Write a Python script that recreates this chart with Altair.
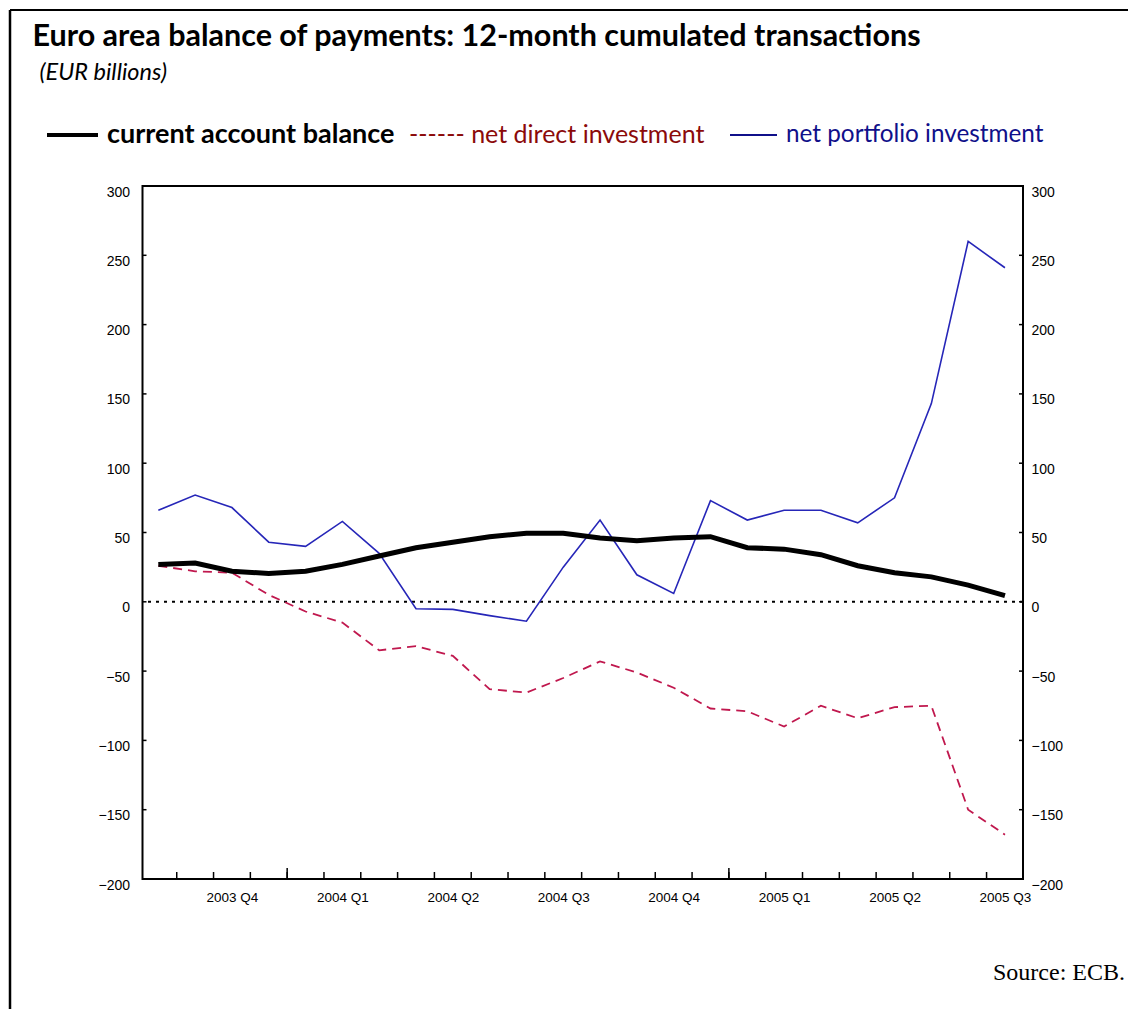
import altair as alt
import pandas as pd

# ---- data (EUR billions, 12-month cumulated), monthly Oct 2003 .. Sep 2005 ----
months = list(range(24))
current_account = [27, 28, 22, 20.5, 22, 27, 33, 39, 43, 47, 49.5, 49.5,
                   46, 44, 46, 47, 39, 38, 34, 26, 21, 18, 12, 4.5]
net_direct = [26, 22, 21, 5, -7, -15, -35, -32, -39, -63, -65.5, -55,
              -43, -51, -62, -77, -79, -90, -75, -84, -76, -75, -150, -168]
net_portfolio = [66, 77, 68, 43, 40, 58, 35, -5, -5.5, -10, -14, 25,
                 59, 19.5, 6, 73, 59, 66, 66, 57, 75, 143, 260, 241]

quarter_pos = [2, 5, 8, 11, 14, 17, 20, 23]
quarter_labels = ["2003 Q4", "2004 Q1", "2004 Q2", "2004 Q3",
                  "2004 Q4", "2005 Q1", "2005 Q2", "2005 Q3"]
month_ticks = [k + 0.5 for k in range(23)]
long_ticks = [3.5, 15.5]
y_ticks = [-150, -100, -50, 0, 50, 100, 150, 200, 250]
y_labels = [-200, -150, -100, -50, 0, 50, 100, 150, 200, 250, 300]

W, H = 880.5, 693

df = pd.DataFrame({"k": months, "ca": current_account,
                   "fdi": net_direct, "pf": net_portfolio})

xs = alt.Scale(domain=[-0.43, 23.49], nice=False, zero=False)
ys = alt.Scale(domain=[-200, 300], nice=False, zero=False)

lab_font = "Liberation Sans"
label_expr = "[" + ",".join("'%s'" % s for s in quarter_labels) + "][round((datum.value-2)/3)]"

base = alt.Chart(df)

# axis carriers
left_axis = alt.Chart(pd.DataFrame({"v": y_labels})).mark_point(opacity=0).encode(
    y=alt.Y("v:Q", scale=ys, axis=alt.Axis(orient="left", values=y_labels, ticks=False,
            domain=False, grid=False, title=None, labelPadding=13, labelOffset=6,
            labelFont=lab_font, labelFontSize=14, labelColor="black")),
)
right_axis = alt.Chart(pd.DataFrame({"v": y_labels})).mark_point(opacity=0).encode(
    y=alt.Y("v:Q", scale=ys, axis=alt.Axis(orient="right", values=y_labels, ticks=False,
            domain=False, grid=False, title=None, labelPadding=8, labelOffset=6,
            labelFont=lab_font, labelFontSize=14, labelColor="black")),
)
bottom_axis = alt.Chart(pd.DataFrame({"q": quarter_pos})).mark_point(opacity=0).encode(
    x=alt.X("q:Q", scale=xs, axis=alt.Axis(orient="bottom", values=quarter_pos,
            labelExpr=label_expr, ticks=False, domain=False, grid=False, title=None,
            labelPadding=11, labelFont=lab_font, labelFontSize=13.5, labelColor="black")),
)

zero_line = alt.Chart(pd.DataFrame({"v": [0]})).mark_rule(
    color="black", strokeDash=[3, 5], strokeWidth=2).encode(
    y=alt.Y("v:Q", scale=ys, axis=None))

pf_line = base.mark_line(color="#2626B8", strokeWidth=1.6).encode(
    x=alt.X("k:Q", scale=xs, axis=None),
    y=alt.Y("pf:Q", scale=ys, axis=None))

fdi_line = base.mark_line(color="#C0184E", strokeWidth=1.8, strokeDash=[9, 6]).encode(
    x=alt.X("k:Q", scale=xs, axis=None),
    y=alt.Y("fdi:Q", scale=ys, axis=None))

ca_line = base.mark_line(color="black", strokeWidth=5).encode(
    x=alt.X("k:Q", scale=xs, axis=None),
    y=alt.Y("ca:Q", scale=ys, axis=None))

# tick marks drawn inward
xt = alt.Chart(pd.DataFrame({"t": month_ticks})).mark_rule(color="black", strokeWidth=1.5).encode(
    x=alt.X("t:Q", scale=xs, axis=None), y=alt.value(H), y2=alt.value(H - 7))
xlt = alt.Chart(pd.DataFrame({"t": long_ticks})).mark_rule(color="black", strokeWidth=1.5).encode(
    x=alt.X("t:Q", scale=xs, axis=None), y=alt.value(H), y2=alt.value(H - 11))
ylt = alt.Chart(pd.DataFrame({"t": y_ticks})).mark_rule(color="black", strokeWidth=1.5).encode(
    y=alt.Y("t:Q", scale=ys, axis=None), x=alt.value(0), x2=alt.value(4))
yrt = alt.Chart(pd.DataFrame({"t": y_ticks})).mark_rule(color="black", strokeWidth=1.5).encode(
    y=alt.Y("t:Q", scale=ys, axis=None), x=alt.value(W - 4), x2=alt.value(W))

# outer frame (open at right/bottom, as in the cropped original)
frame_top = alt.Chart(pd.DataFrame({"a": [0]})).mark_rule(color="black", strokeWidth=2).encode(
    x=alt.value(-132.5), x2=alt.value(1000), y=alt.value(-176))
frame_left = alt.Chart(pd.DataFrame({"a": [0]})).mark_rule(color="black", strokeWidth=2.5).encode(
    x=alt.value(-132.5), y=alt.value(-176), y2=alt.value(900))

def txt(text, x, y, size, color="black", weight="normal", style="normal",
        font="Lato", align="left"):
    return alt.Chart(pd.DataFrame({"s": [text]})).mark_text(
        align=align, baseline="middle", fontSize=size, fontWeight=weight,
        fontStyle=style, font=font, color=color).encode(
        text="s:N", x=alt.value(x), y=alt.value(y))

title = txt("Euro area balance of payments: 12-month cumulated transactions",
            -110, -149, 30.5, weight="bold")
subtitle = txt("(EUR billions)", -103, -113, 23.5, style="italic")

leg_ca_line = alt.Chart(pd.DataFrame({"a": [0]})).mark_rule(color="black", strokeWidth=4).encode(
    x=alt.value(-95.5), x2=alt.value(-44.5), y=alt.value(-51))
leg_ca = txt("current account balance", -35.5, -51, 27, weight="bold")
leg_fdi = txt("------ net direct investment", 266.5, -51, 25, color="#8B0A0A")
leg_pf_line = alt.Chart(pd.DataFrame({"a": [0]})).mark_rule(color="#10108A", strokeWidth=2).encode(
    x=alt.value(587.5), x2=alt.value(634.5), y=alt.value(-51))
leg_pf = txt("net portfolio investment", 643.5, -51, 24.3, color="#10108A")

source = txt("Source: ECB.", 982.5, 787, 24, font="Liberation Serif", align="right")

chart = alt.layer(
    left_axis, right_axis, bottom_axis, zero_line, pf_line, fdi_line, ca_line,
    xt, xlt, ylt, yrt, frame_top, frame_left,
    title, subtitle, leg_ca_line, leg_ca, leg_fdi, leg_pf_line, leg_pf, source,
).resolve_scale(y="independent", x="independent").properties(
    width=W, height=H,
    autosize=alt.AutoSizeParams(type="none"),
    padding={"left": 134.5, "top": 178, "right": 105, "bottom": 130},
).configure(background="white").configure_view(stroke="black", strokeWidth=2)

chart.save("out.html", embed_options={"renderer": "svg", "actions": False})
